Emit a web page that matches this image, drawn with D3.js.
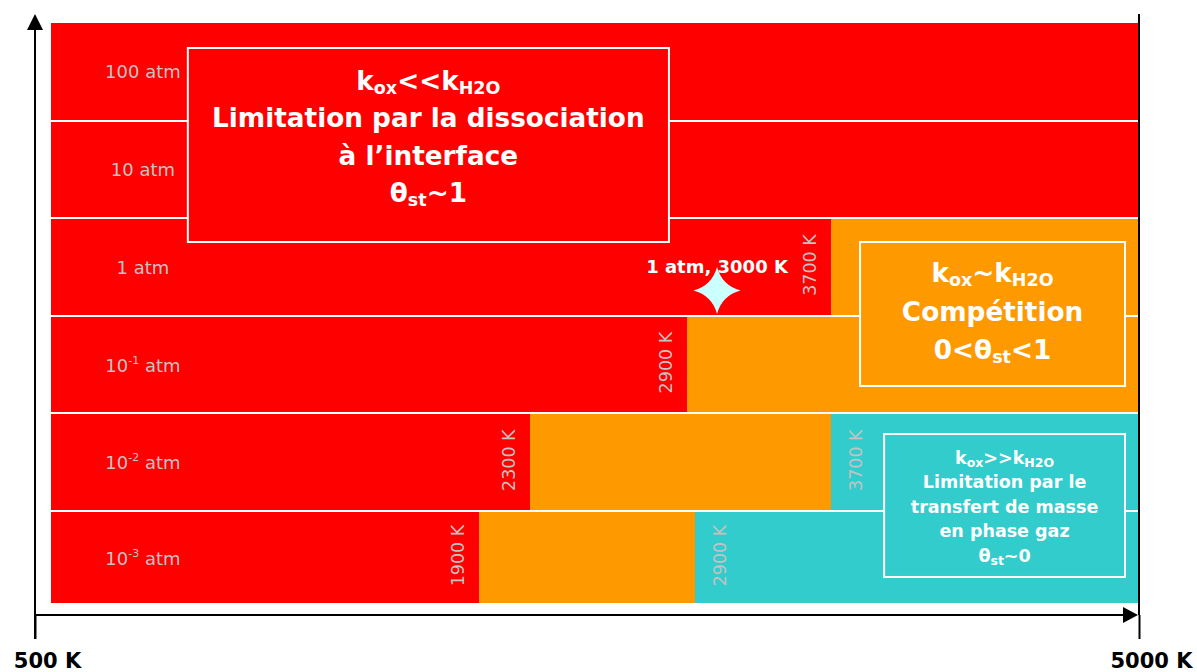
<!DOCTYPE html>
<html>
<head>
<meta charset="utf-8">
<script src="https://cdn.jsdelivr.net/npm/d3@7/dist/d3.min.js"></script>
<style>
  html, body { margin: 0; padding: 0; background: #fff; }
  svg { display: block; }
</style>
</head>
<body>
<svg id="chart" width="1197" height="672"></svg>
<script>
// ---------------- DATA ----------------
// Temperature axis (K)
const axisTicks = [500, 5000];
// Pressure rows, as log10(p / atm), top to bottom
const pressureExp = [2, 1, 0, -1, -2, -3];
const rowLabelBase = ["100", "10", "1", "10", "10", "10"];
const rowLabelSup  = ["", "", "", "-1", "-2", "-3"];
// Regimes, in order of increasing temperature
const regimeNames = ["dissociation", "competition", "transfert"];
// Schematic position where the regime bars start (K on the drawn axis)
const barStartTemp = 565;
// Regime boundaries per row (K, as drawn on the schematic axis)
const rowBoundaries = [[], [], [3745], [3159], [2518, 3745], [2310, 3191]];
// Text written on each boundary
const boundaryLabels = [[], [], ["3700 K"], ["2900 K"], ["2300 K", "3700 K"], ["1900 K", "2900 K"]];
// Marked operating point: 1 atm, 3000 K (drawn position on schematic)
const pointTemp = 3280;
const pointExp = -0.24;
const pointLabel = "1 atm, 3000 K";
// Regime annotation boxes: [x0 K, x1 K, top exp, bottom exp]
const boxTemps = [[1123, 3084], [3863, 4943], [3961, 4943]];
const boxExps  = [[2.244, 0.256], [0.256, -1.219], [-1.711, -3.176]];
const boxLines = [
  [
    [["k"], ["ox", 1], ["<<k"], ["H2O", 1]],
    [["Limitation par la dissociation"]],
    [["à l’interface"]],
    [["θ"], ["st", 1], ["~1"]]
  ],
  [
    [["k"], ["ox", 1], ["~k"], ["H2O", 1]],
    [["Compétition"]],
    [["0<θ"], ["st", 1], ["<1"]]
  ],
  [
    [["k"], ["ox", 1], [">>k"], ["H2O", 1]],
    [["Limitation par le"]],
    [["transfert de masse"]],
    [["en phase gaz"]],
    [["θ"], ["st", 1], ["~0"]]
  ]
];

// ---------------- STYLE ----------------
const regimeColor = d3.scaleOrdinal().domain(regimeNames).range(["#ff0000", "#ff9900", "#33cccc"]);
const grayText = "#c3c3c3";
const FONT = "'DejaVu Sans', Verdana, sans-serif";
const boxStyle = [
  { size: 26.3, sub: 17.5, first: 42, lh: 37.3 },
  { size: 26.3, sub: 17.5, first: 40, lh: 38.5 },
  { size: 17.5, sub: 12.5, first: 30, lh: 24.5 }
];

// ---------------- LAYOUT ----------------
const svg = d3.select("#chart");
const x = d3.scaleLinear().domain([500, 5000]).range([35, 1139]);
const y = d3.scaleLinear().domain([2.5, -2.5]).range([23, 511]);
const plotBottom = 603, axisY = 615;

// rows
const rows = pressureExp.map((e, i) => {
  const edges = [barStartTemp, ...rowBoundaries[i], 5000];
  const y0 = i === 0 ? y(e + 0.5) : y(e + 0.5) + 1;
  const y1 = i === pressureExp.length - 1 ? plotBottom : y(e - 0.5) - 1;
  const segs = d3.range(edges.length - 1).map(k => ({ t0: edges[k], t1: edges[k + 1], regime: regimeNames[k] }));
  return { e, i, y0, y1, segs };
});

const gRows = svg.append("g");
rows.forEach(r => {
  gRows.selectAll(null).data(r.segs).join("rect")
    .attr("x", d => x(d.t0))
    .attr("width", d => x(d.t1) - x(d.t0))
    .attr("y", r.y0)
    .attr("height", r.y1 - r.y0)
    .attr("fill", d => regimeColor(d.regime))
    .attr("shape-rendering", "crispEdges");
});

// row labels
rows.forEach((r, i) => {
  const t = svg.append("text")
    .attr("x", x(barStartTemp) + 92)
    .attr("y", (r.y0 + r.y1) / 2 + 7)
    .attr("text-anchor", "middle")
    .attr("font-family", FONT)
    .attr("font-size", 18)
    .attr("fill", grayText);
  t.append("tspan").text(rowLabelBase[i]);
  if (rowLabelSup[i]) {
    t.append("tspan").attr("font-size", 11).attr("dy", -8).text(rowLabelSup[i]);
    t.append("tspan").attr("dy", 8).text(" atm");
  } else {
    t.append("tspan").text(" atm");
  }
});

// boundary labels (rotated)
rows.forEach((r, i) => {
  rowBoundaries[i].forEach((b, k) => {
    const bx = k === 0 ? x(b) - 21 : x(b) + 25;
    const cy = (r.y0 + r.y1) / 2 - 2;
    svg.append("text")
      .attr("transform", `translate(${bx},${cy}) rotate(-90)`)
      .attr("text-anchor", "middle")
      .attr("dominant-baseline", "central")
      .attr("font-family", FONT)
      .attr("font-size", 17.5)
      .attr("fill", grayText)
      .text(boundaryLabels[i][k]);
  });
});

// annotation boxes
boxTemps.forEach((bt, bi) => {
  const bx0 = x(bt[0]), bx1 = x(bt[1]);
  const by0 = y(boxExps[bi][0]), by1 = y(boxExps[bi][1]);
  const st = boxStyle[bi];
  svg.append("rect")
    .attr("x", bx0).attr("y", by0)
    .attr("width", bx1 - bx0).attr("height", by1 - by0)
    .attr("fill", regimeColor(regimeNames[bi]))
    .attr("stroke", "#fff").attr("stroke-width", 2);
  boxLines[bi].forEach((line, li) => {
    const t = svg.append("text")
      .attr("x", (bx0 + bx1) / 2)
      .attr("y", by0 + st.first + li * st.lh)
      .attr("text-anchor", "middle")
      .attr("font-family", FONT)
      .attr("font-weight", "bold")
      .attr("font-size", st.size)
      .attr("fill", "#fff");
    let shifted = false;
    line.forEach(seg => {
      const sp = t.append("tspan").text(seg[0]);
      if (seg[1]) {
        sp.attr("font-size", st.sub).attr("dy", shifted ? 0 : st.size * 0.15);
        shifted = true;
      } else if (shifted) {
        sp.attr("dy", -st.size * 0.15);
        shifted = false;
      }
    });
  });
});

// operating point (4-point star)
const px = x(pointTemp), py = y(pointExp);
const R = 23.5, r0 = 5;
const star = d3.path();
star.moveTo(0, -R);
star.quadraticCurveTo(r0, -r0, R, 0);
star.quadraticCurveTo(r0, r0, 0, R);
star.quadraticCurveTo(-r0, r0, -R, 0);
star.quadraticCurveTo(-r0, -r0, 0, -R);
star.closePath();
svg.append("path")
  .attr("d", star.toString())
  .attr("transform", `translate(${px},${py})`)
  .attr("fill", "#ccffff");
svg.append("text")
  .attr("x", px).attr("y", py - 17)
  .attr("text-anchor", "middle")
  .attr("font-family", FONT)
  .attr("font-weight", "bold")
  .attr("font-size", 18)
  .attr("fill", "#f0ffff")
  .text(pointLabel);

// ---------------- AXES ----------------
const xAxis = d3.axisBottom(x).tickValues(axisTicks).tickSize(24).tickFormat(d => d + " K");
const gx = svg.append("g").attr("transform", `translate(0,${axisY})`).call(xAxis);
gx.select(".domain").remove();
gx.selectAll(".tick line").attr("stroke", "#000").attr("stroke-width", 2);
gx.selectAll(".tick text")
  .attr("y", 38).attr("dx", 12)
  .attr("fill", "#000")
  .attr("font-family", FONT)
  .attr("font-weight", "bold")
  .attr("font-size", 21);

const axisG = svg.append("g");
// x axis line + arrow
axisG.append("line").attr("x1", x(500)).attr("x2", x(5000) - 14).attr("y1", axisY).attr("y2", axisY)
  .attr("stroke", "#000").attr("stroke-width", 2);
axisG.append("path")
  .attr("d", d3.line()([[x(5000) - 1, axisY], [x(5000) - 16, axisY - 8], [x(5000) - 16, axisY + 8]]) + "Z")
  .attr("fill", "#000");
// y axis line + arrow
axisG.append("line").attr("x1", x(500)).attr("x2", x(500)).attr("y1", axisY + 24).attr("y2", 28)
  .attr("stroke", "#000").attr("stroke-width", 2);
axisG.append("path")
  .attr("d", d3.line()([[x(500), 14], [x(500) - 8, 30], [x(500) + 8, 30]]) + "Z")
  .attr("fill", "#000");
// right limit line at 5000 K
axisG.append("line").attr("x1", x(5000)).attr("x2", x(5000)).attr("y1", 14).attr("y2", axisY)
  .attr("stroke", "#000").attr("stroke-width", 2);
</script>
</body>
</html>
